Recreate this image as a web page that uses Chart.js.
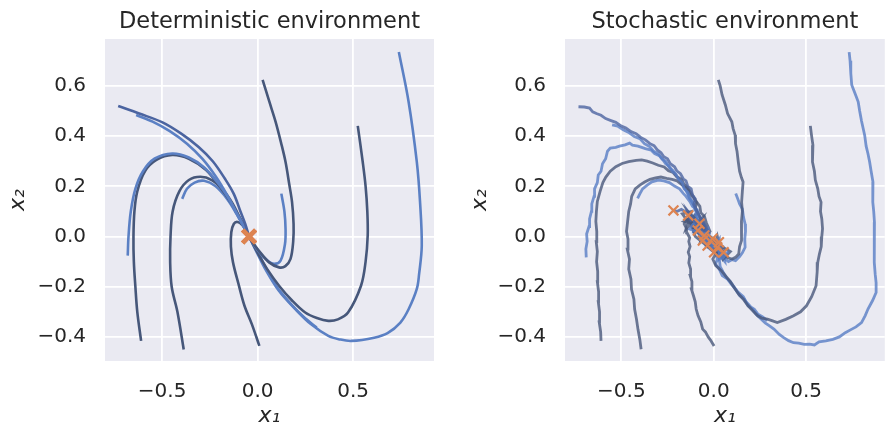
<!DOCTYPE html>
<html>
<head>
<meta charset="utf-8">
<script src="https://cdn.jsdelivr.net/npm/chart.js@4.4.1/dist/chart.umd.min.js"></script>
<style>
  body { margin: 0; background: #fff; }
  .panel { position: absolute; top: 0; }
</style>
</head>
<body>
<div class="panel" style="left:0"><canvas id="detChart" width="447" height="429"></canvas></div>
<div class="panel" style="left:447px"><canvas id="stochChart" width="447" height="429"></canvas></div>
<script>
// tick positions shared by both panels
const xTicks = [-0.5, 0, 0.5];
const yTicks = [-0.4, -0.2, 0, 0.2, 0.4, 0.6];
const titles = ['Deterministic environment', 'Stochastic environment'];

// deterministic trajectories
const detTraj = [
  [[-0.73,0.52],[-0.62,0.49],[-0.498,0.455],[-0.40,0.41],[-0.309,0.357],[-0.235,0.30],[-0.172,0.231],[-0.125,0.17],[-0.09,0.10],[-0.065,0.05],[-0.045,0.0]],
  [[-0.636,0.484],[-0.55,0.458],[-0.46,0.42],[-0.37,0.37],[-0.29,0.31],[-0.22,0.24],[-0.16,0.165],[-0.11,0.09],[-0.07,0.035],[-0.045,0.0]],
  [[-0.68,-0.076],[-0.676,0.0],[-0.664,0.1],[-0.64,0.19],[-0.60,0.26],[-0.54,0.31],[-0.447,0.331],[-0.36,0.315],[-0.28,0.275],[-0.21,0.215],[-0.15,0.15],[-0.10,0.08],[-0.065,0.03],[-0.045,0.0]],
  [[-0.61,-0.416],[-0.63,-0.3],[-0.64,-0.2],[-0.648,-0.1],[-0.65,0.0],[-0.645,0.1],[-0.63,0.18],[-0.59,0.26],[-0.53,0.305],[-0.447,0.325],[-0.36,0.31],[-0.27,0.265],[-0.2,0.2],[-0.14,0.135],[-0.095,0.075],[-0.06,0.025],[-0.045,0.0]],
  [[-0.387,-0.45],[-0.42,-0.3],[-0.45,-0.2],[-0.458,-0.1],[-0.456,0.0],[-0.445,0.1],[-0.41,0.18],[-0.36,0.225],[-0.30,0.238],[-0.24,0.225],[-0.18,0.185],[-0.13,0.13],[-0.09,0.07],[-0.06,0.025],[-0.045,0.0]],
  [[-0.395,0.15],[-0.37,0.19],[-0.33,0.215],[-0.28,0.222],[-0.22,0.2],[-0.16,0.15],[-0.11,0.09],[-0.07,0.035],[-0.045,0.0]],
  [[0.009,-0.436],[-0.03,-0.35],[-0.069,-0.276],[-0.10,-0.19],[-0.129,-0.103],[-0.14,-0.04],[-0.138,0.017],[-0.125,0.05],[-0.105,0.058],[-0.08,0.045],[-0.06,0.02],[-0.045,0.0]],
  [[0.026,0.624],[0.06,0.54],[0.094,0.457],[0.122,0.375],[0.146,0.297],[0.165,0.21],[0.18,0.137],[0.188,0.05],[0.186,-0.02],[0.172,-0.089],[0.145,-0.118],[0.112,-0.123],[0.06,-0.103],[0.01,-0.06],[-0.02,-0.03],[-0.045,0.0]],
  [[0.124,0.171],[0.14,0.1],[0.146,0.03],[0.143,-0.03],[0.12,-0.096],[0.086,-0.109],[0.05,-0.095],[0.0,-0.055],[-0.045,0.0]],
  [[0.524,0.441],[0.55,0.297],[0.565,0.2],[0.574,0.1],[0.576,0.004],[0.565,-0.1],[0.541,-0.196],[0.473,-0.303],[0.42,-0.33],[0.37,-0.336],[0.31,-0.325],[0.249,-0.303],[0.18,-0.255],[0.112,-0.196],[0.05,-0.13],[0.0,-0.065],[-0.045,0.0]],
  [[0.739,0.735],[0.79,0.537],[0.833,0.297],[0.85,0.137],[0.859,-0.036],[0.845,-0.15],[0.833,-0.209],[0.79,-0.29],[0.747,-0.343],[0.68,-0.385],[0.61,-0.403],[0.49,-0.416],[0.43,-0.41],[0.37,-0.396],[0.28,-0.35],[0.197,-0.289],[0.11,-0.215],[0.04,-0.13],[0.0,-0.07],[-0.045,0.0]],
  [[0.309,-0.363],[0.24,-0.32],[0.17,-0.265],[0.1,-0.2],[0.04,-0.12],[0.0,-0.06],[-0.045,0.0]]
];
const detColors = ['#4b64a0', '#5b80c4', '#5b80c4', '#46577a', '#46577a', '#5b80c4',
                   '#46577a', '#46577a', '#5b80c4', '#46577a', '#5b80c4', '#5b80c4'];

// noisy trajectories (last point = orange x)
const stochTraj = [
  [[-0.732,0.517],[-0.70,0.516],[-0.672,0.512],[-0.655,0.497],[-0.635,0.49],[-0.61,0.483],[-0.585,0.47],[-0.556,0.462],[-0.53,0.455],[-0.50,0.44],[-0.475,0.432],[-0.448,0.418],[-0.42,0.41],[-0.395,0.395],[-0.37,0.385],[-0.345,0.37],[-0.323,0.362],[-0.305,0.345],[-0.285,0.334],[-0.27,0.318],[-0.25,0.31],[-0.235,0.29],[-0.212,0.278],[-0.2,0.262],[-0.18,0.25],[-0.165,0.23],[-0.15,0.222],[-0.14,0.2],[-0.122,0.19],[-0.115,0.165],[-0.1,0.15],[-0.108,0.128],[-0.09,0.1],[-0.06,0.06],[-0.03,0.02],[-0.07,0.03],[-0.11,0.07],[-0.14,0.1],[-0.12,0.06],[-0.15,0.098],[-0.175,0.108],[-0.2,0.1],[-0.218,0.104]],
  [[-0.69,-0.083],[-0.692,-0.05],[-0.685,-0.02],[-0.688,0.01],[-0.675,0.04],[-0.672,0.07],[-0.662,0.1],[-0.66,0.13],[-0.648,0.16],[-0.645,0.19],[-0.63,0.215],[-0.625,0.245],[-0.61,0.26],[-0.602,0.29],[-0.585,0.31],[-0.575,0.34],[-0.56,0.352],[-0.53,0.355],[-0.51,0.36],[-0.48,0.365],[-0.455,0.372],[-0.44,0.364],[-0.41,0.36],[-0.39,0.355],[-0.37,0.35],[-0.338,0.344],[-0.32,0.33],[-0.295,0.322],[-0.275,0.305],[-0.26,0.29],[-0.24,0.278],[-0.225,0.26],[-0.205,0.248],[-0.19,0.228],[-0.17,0.215],[-0.16,0.19],[-0.14,0.175],[-0.13,0.15],[-0.11,0.13],[-0.1,0.105],[-0.085,0.09],[-0.09,0.065],[-0.07,0.05],[-0.075,0.025],[-0.055,0.01],[-0.13,0.03],[-0.09,0.07],[-0.07,-0.01],[-0.03,0.03],[-0.01,-0.05],[0.03,-0.01],[0.03,-0.09],[0.08,-0.06],[0.05,-0.085],[0.02,-0.05],[-0.04,0.0],[-0.09,0.04],[-0.06,0.0],[-0.02,-0.03],[-0.06,-0.015],[-0.04,-0.025],[-0.033,-0.036]],
  [[-0.61,-0.416],[-0.612,-0.38],[-0.62,-0.34],[-0.618,-0.3],[-0.625,-0.26],[-0.623,-0.22],[-0.63,-0.18],[-0.628,-0.14],[-0.634,-0.1],[-0.63,-0.06],[-0.636,-0.02],[-0.633,0.02],[-0.638,0.06],[-0.635,0.1],[-0.63,0.14],[-0.615,0.18],[-0.6,0.215],[-0.584,0.237],[-0.56,0.26],[-0.53,0.278],[-0.496,0.291],[-0.46,0.298],[-0.42,0.303],[-0.39,0.305],[-0.36,0.3],[-0.33,0.293],[-0.3,0.284],[-0.268,0.277],[-0.245,0.262],[-0.22,0.255],[-0.2,0.238],[-0.175,0.228],[-0.16,0.208],[-0.14,0.195],[-0.13,0.17],[-0.11,0.155],[-0.093,0.135],[-0.1,0.11],[-0.085,0.09],[-0.05,0.04],[-0.03,0.0],[0.0,-0.03],[0.03,-0.07],[-0.01,-0.05],[-0.06,0.03],[-0.1,0.07],[-0.14,0.1],[-0.1,0.05],[-0.06,0.075],[-0.077,0.051]],
  [[-0.393,-0.449],[-0.4,-0.41],[-0.41,-0.37],[-0.418,-0.33],[-0.428,-0.29],[-0.432,-0.25],[-0.445,-0.21],[-0.448,-0.17],[-0.46,-0.13],[-0.456,-0.09],[-0.468,-0.05],[-0.464,-0.01],[-0.472,0.02],[-0.466,0.06],[-0.46,0.1],[-0.45,0.13],[-0.444,0.16],[-0.425,0.19],[-0.4,0.205],[-0.374,0.217],[-0.345,0.228],[-0.315,0.234],[-0.286,0.237],[-0.255,0.232],[-0.225,0.228],[-0.198,0.222],[-0.17,0.205],[-0.15,0.195],[-0.128,0.18],[-0.11,0.16],[-0.095,0.14],[-0.075,0.12],[-0.07,0.095],[-0.05,0.08],[-0.04,0.055],[-0.02,0.02],[-0.07,-0.015],[-0.05,0.045],[0.0,-0.055],[0.02,0.0],[0.05,-0.09],[0.09,-0.06],[0.02,-0.03],[0.06,-0.07],[0.03,-0.08],[-0.01,-0.04],[-0.05,0.0],[-0.1,0.03],[-0.12,0.07],[-0.08,0.05],[-0.06,0.04],[-0.086,0.024]],
  [[-0.412,0.152],[-0.4,0.17],[-0.385,0.19],[-0.36,0.205],[-0.335,0.218],[-0.3,0.225],[-0.27,0.222],[-0.24,0.215],[-0.21,0.2],[-0.185,0.19],[-0.165,0.172],[-0.15,0.16],[-0.13,0.14],[-0.115,0.12],[-0.09,0.105],[-0.1,0.08],[-0.08,0.06],[-0.065,0.04],[-0.03,0.0],[0.01,-0.04],[0.04,-0.07],[0.07,-0.08],[0.03,-0.06],[0.0,-0.04],[-0.05,0.03],[-0.09,0.06],[-0.07,0.03],[-0.045,0.02],[-0.051,0.004]],
  [[0.002,-0.436],[-0.015,-0.415],[-0.03,-0.4],[-0.045,-0.38],[-0.06,-0.369],[-0.07,-0.34],[-0.085,-0.315],[-0.095,-0.289],[-0.1,-0.26],[-0.11,-0.235],[-0.121,-0.209],[-0.118,-0.18],[-0.128,-0.155],[-0.125,-0.13],[-0.135,-0.105],[-0.13,-0.08],[-0.138,-0.063],[-0.128,-0.04],[-0.135,-0.02],[-0.13,-0.005],[-0.145,0.015],[-0.147,0.031],[-0.16,0.05],[-0.15,0.07],[-0.1,0.04],[-0.07,0.0],[-0.04,-0.03],[0.0,-0.06],[-0.03,-0.02],[-0.08,0.02],[-0.11,0.06],[-0.13,0.08],[-0.138,0.084]],
  [[0.025,0.624],[0.035,0.6],[0.045,0.565],[0.063,0.524],[0.075,0.49],[0.098,0.457],[0.105,0.43],[0.116,0.404],[0.118,0.37],[0.126,0.34],[0.133,0.297],[0.14,0.26],[0.15,0.235],[0.159,0.217],[0.155,0.18],[0.151,0.137],[0.155,0.1],[0.15,0.06],[0.153,0.02],[0.148,-0.016],[0.14,-0.04],[0.135,-0.07],[0.118,-0.083],[0.1,-0.09],[0.075,-0.085],[0.05,-0.07],[0.03,-0.05],[0.01,-0.03],[-0.06,-0.01],[-0.11,0.06],[-0.15,0.03],[-0.12,0.1],[-0.17,0.09],[-0.1,0.02],[-0.02,0.0],[-0.06,0.02],[-0.03,-0.03],[0.0,-0.05],[0.02,-0.04],[0.054,-0.063]],
  [[0.119,0.171],[0.13,0.15],[0.14,0.13],[0.155,0.11],[0.161,0.077],[0.17,0.05],[0.172,0.02],[0.168,-0.01],[0.17,-0.043],[0.155,-0.065],[0.14,-0.08],[0.118,-0.096],[0.1,-0.092],[0.08,-0.1],[0.06,-0.088],[0.04,-0.08],[0.02,-0.06],[0.0,-0.055],[-0.03,-0.02],[-0.07,0.01],[-0.04,-0.02],[-0.01,-0.04],[0.03,-0.07],[0.002,-0.063]],
  [[0.523,0.441],[0.53,0.4],[0.537,0.364],[0.532,0.33],[0.537,0.297],[0.545,0.26],[0.55,0.225],[0.563,0.191],[0.57,0.16],[0.581,0.137],[0.578,0.1],[0.585,0.07],[0.589,0.031],[0.585,0.0],[0.582,-0.04],[0.572,-0.07],[0.563,-0.103],[0.56,-0.14],[0.554,-0.196],[0.53,-0.24],[0.502,-0.276],[0.47,-0.3],[0.432,-0.316],[0.39,-0.33],[0.344,-0.343],[0.315,-0.335],[0.291,-0.329],[0.26,-0.325],[0.238,-0.316],[0.21,-0.295],[0.186,-0.276],[0.16,-0.25],[0.135,-0.23],[0.116,-0.209],[0.09,-0.18],[0.063,-0.156],[0.04,-0.135],[0.011,-0.116],[-0.005,-0.09],[0.01,-0.07],[-0.015,-0.05],[-0.1,0.0],[-0.13,0.07],[-0.09,0.09],[-0.16,0.06],[-0.07,0.04],[-0.04,-0.04],[-0.05,-0.02],[-0.08,0.01],[-0.05,0.0],[-0.02,-0.02],[-0.007,-0.009]],
  [[0.733,0.735],[0.738,0.7],[0.742,0.65],[0.747,0.604],[0.765,0.57],[0.782,0.537],[0.79,0.5],[0.8,0.46],[0.817,0.404],[0.825,0.36],[0.835,0.33],[0.844,0.297],[0.852,0.26],[0.862,0.217],[0.86,0.18],[0.862,0.137],[0.866,0.1],[0.87,0.057],[0.868,0.02],[0.87,-0.02],[0.868,-0.06],[0.87,-0.103],[0.874,-0.15],[0.879,-0.185],[0.879,-0.223],[0.86,-0.255],[0.835,-0.289],[0.82,-0.315],[0.8,-0.343],[0.77,-0.36],[0.74,-0.372],[0.712,-0.383],[0.68,-0.4],[0.645,-0.41],[0.607,-0.416],[0.57,-0.42],[0.545,-0.432],[0.519,-0.429],[0.49,-0.43],[0.46,-0.425],[0.432,-0.423],[0.405,-0.415],[0.379,-0.403],[0.355,-0.39],[0.326,-0.369],[0.3,-0.355],[0.28,-0.345],[0.256,-0.329],[0.23,-0.31],[0.21,-0.29],[0.186,-0.276],[0.165,-0.25],[0.14,-0.235],[0.116,-0.209],[0.095,-0.19],[0.075,-0.17],[0.046,-0.156],[0.03,-0.13],[0.01,-0.11],[0.02,-0.09],[0.01,-0.06],[-0.04,-0.04],[-0.06,0.03],[-0.11,0.02],[-0.1,0.08],[-0.05,0.02],[0.01,-0.02],[0.05,-0.04],[0.06,-0.1],[-0.02,-0.03],[-0.05,-0.01],[-0.02,-0.05],[0.0,-0.06],[0.019,-0.043]],
  [[0.29,-0.335],[0.265,-0.32],[0.24,-0.31],[0.22,-0.29],[0.2,-0.28],[0.175,-0.26],[0.16,-0.24],[0.13,-0.22],[0.11,-0.2],[0.09,-0.18],[0.07,-0.165],[0.05,-0.14],[0.035,-0.12],[0.03,-0.09],[0.045,-0.07],[0.03,-0.045],[0.028,-0.023]],
  [[-0.55,0.445],[-0.52,0.44],[-0.49,0.425],[-0.46,0.415],[-0.43,0.398],[-0.4,0.39],[-0.375,0.37],[-0.35,0.36],[-0.325,0.34],[-0.3,0.33],[-0.28,0.31],[-0.26,0.3],[-0.24,0.275],[-0.22,0.262],[-0.2,0.24],[-0.185,0.225],[-0.165,0.2],[-0.15,0.185],[-0.135,0.16],[-0.12,0.145],[-0.105,0.12],[-0.09,0.105],[-0.08,0.08],[-0.06,0.065],[-0.065,0.04],[-0.04,0.02],[-0.028,0.0],[-0.01,-0.03],[0.02,-0.06],[-0.02,-0.04],[-0.045,-0.01],[-0.059,-0.016]]
];
const stochColors = ['rgba(76,100,160,0.8)', 'rgba(88,125,196,0.8)', 'rgba(72,88,122,0.8)', 'rgba(72,88,122,0.8)',
                     'rgba(88,125,196,0.8)', 'rgba(72,88,122,0.8)', 'rgba(72,88,122,0.8)', 'rgba(88,125,196,0.8)',
                     'rgba(72,88,122,0.8)', 'rgba(88,125,196,0.8)', 'rgba(88,125,196,0.8)', 'rgba(88,125,196,0.8)'];

const FONT = 'DejaVu Sans';
const TEXT = '#262626';

const bgPlugin = {
    id: 'bg',
    beforeDraw(chart) {
        const a = chart.chartArea;
        const ctx = chart.ctx;
        ctx.save();
        ctx.fillStyle = '#eaeaf2';
        ctx.fillRect(a.left, a.top, a.right - a.left, a.bottom - a.top);
        ctx.restore();
    }
};

function fmt(v) {
    return v.toFixed(1).replace('-', '\u2212');
}

function makeChart(id, cfg) {
    const datasets = cfg.trajs.map((t, i) => ({
        data: t.map(p => ({x: p[0], y: p[1]})),
        showLine: true,
        borderColor: cfg.colors[i],
        borderWidth: cfg.lineWidth,
        pointRadius: 0,
        tension: cfg.tension,
        order: 1
    }));
    // orange crosses at the final state of each run
    datasets.unshift({
        data: cfg.trajs.map(t => ({x: t[t.length - 1][0], y: t[t.length - 1][1]})),
        pointStyle: 'crossRot',
        pointRadius: cfg.markerRadius,
        borderColor: '#dd8452',
        borderWidth: cfg.markerWidth,
        order: 0
    });

    return new Chart(document.getElementById(id), {
        type: 'scatter',
        data: {datasets},
        plugins: [bgPlugin],
        options: {
            responsive: false,
            animation: false,
            layout: {padding: {left: 0, right: cfg.padRight, top: 0, bottom: 0}},
            plugins: {
                legend: {display: false},
                tooltip: {enabled: false},
                title: {
                    display: true,
                    text: cfg.title,
                    fullSize: false,
                    color: TEXT,
                    font: {family: FONT, size: 22.5, weight: 'normal', lineHeight: 1.2},
                    padding: {top: 8.6, bottom: 3.4}
                }
            },
            scales: {
                x: {
                    type: 'linear',
                    min: cfg.xMin, max: cfg.xMax,
                    grid: {color: '#ffffff', lineWidth: 1.8, drawTicks: false},
                    border: {display: false},
                    afterBuildTicks: s => { s.ticks = xTicks.map(v => ({value: v})); },
                    afterFit: s => { s.height = 68; },
                    ticks: {color: TEXT, padding: 19, font: {family: FONT, size: 20}, callback: fmt, maxRotation: 0},
                    title: {display: true, text: 'x\u2081', color: TEXT, font: {family: FONT, size: 22, style: 'italic', lineHeight: 1.0}, padding: {top: 0, bottom: 1.5}}
                },
                y: {
                    type: 'linear',
                    min: -0.496, max: 0.787,
                    grid: {color: '#ffffff', lineWidth: 1.8, drawTicks: false},
                    border: {display: false},
                    afterBuildTicks: s => { s.ticks = yTicks.map(v => ({value: v})); },
                    afterFit: s => { s.width = cfg.yWidth; },
                    ticks: {color: TEXT, padding: 19, font: {family: FONT, size: 20}, callback: fmt},
                    title: {display: true, text: 'x\u2082', color: TEXT, font: {family: FONT, size: 22, style: 'italic', lineHeight: 1.2}, padding: {top: cfg.yTitlePad, bottom: 0}}
                }
            }
        }
    });
}

makeChart('detChart', {
    title: titles[0], trajs: detTraj, colors: detColors,
    lineWidth: 2.6, tension: 0.35, markerRadius: 9, markerWidth: 4,
    xMin: -0.799, xMax: 0.923, yWidth: 105, yTitlePad: 5, padRight: 8
});

makeChart('stochChart', {
    title: titles[1], trajs: stochTraj, colors: stochColors,
    lineWidth: 2.8, tension: 0, markerRadius: 7, markerWidth: 2.2,
    xMin: -0.805, xMax: 0.926, yWidth: 118, yTitlePad: 20, padRight: 0
});
</script>
</body>
</html>
